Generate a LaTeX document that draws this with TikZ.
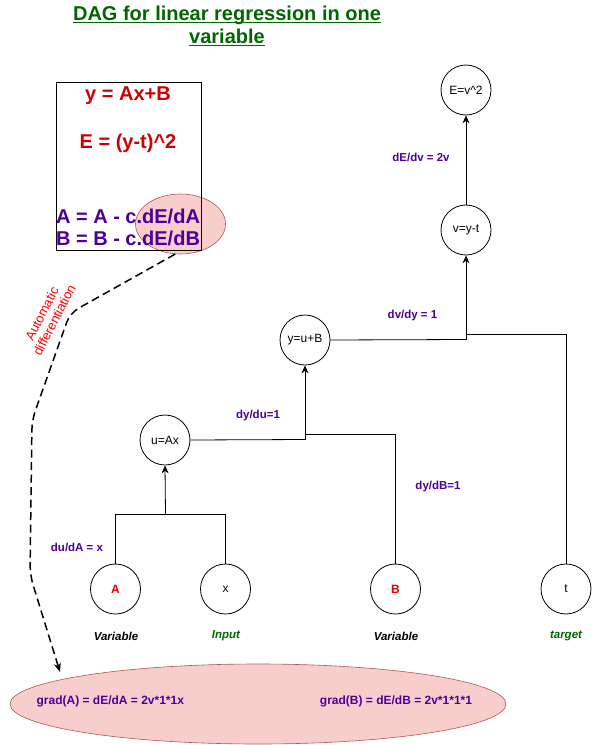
\documentclass[tikz,border=0pt]{standalone}
\usepackage{fontspec}
\setmainfont{Liberation Sans}
\usetikzlibrary{arrows.meta,shapes.geometric}
\definecolor{titlegreen}{RGB}{0,102,0}
\definecolor{eqred}{RGB}{204,0,0}
\definecolor{nodered}{RGB}{230,0,0}
\definecolor{purp}{RGB}{76,0,153}
\definecolor{pinkfill}{RGB}{248,206,204}
\definecolor{pinkdraw}{RGB}{184,84,80}
\newcommand\myul[1]{\setbox0\hbox{#1}\rlap{\rule[-2.6pt]{\wd0}{1.4pt}}\box0}
\begin{document}
\begin{tikzpicture}[x=1pt,y=1pt,
 op/.style={circle,draw,line width=0.8pt,minimum size=50pt,inner sep=0pt,font=\fontsize{12}{14}\selectfont},
 varop/.style={op,font=\fontsize{12}{14}\selectfont\bfseries,text=nodered},
 deriv/.style={font=\fontsize{11.5}{13}\selectfont\bfseries,text=purp,inner sep=0pt},
 role/.style={font=\fontsize{11.5}{13}\selectfont\bfseries\itshape,inner sep=0pt},
 edge/.style={line width=0.8pt},
 arr/.style={edge,-{Stealth[length=8pt,width=7pt]}},
 eq/.style={font=\fontsize{20}{24}\selectfont\bfseries,inner sep=0pt},
 grad/.style={font=\fontsize{12}{14}\selectfont\bfseries,text=purp,inner sep=0pt},
 blob/.style={ellipse,draw=pinkdraw,fill=pinkfill,line width=0.6pt,inner sep=0pt},
 dashline/.style={line width=1.5pt,dash pattern=on 8pt off 4.5pt,rounded corners=10pt,-{Stealth[length=9pt,width=7pt]}}
]
\useasboundingbox (0,0) rectangle (592,-745);
% title
\node[font=\fontsize{20}{23}\selectfont\bfseries,text=titlegreen,align=center,inner sep=0pt] (title) at (227,-26)
 {\myul{DAG for linear regression in one}\\\myul{variable}};
% highlight ellipse and box
\node[blob,minimum width=90pt,minimum height=60pt] (hl) at (180.5,-224) {};
\node[draw,line width=0.8pt,minimum width=145pt,minimum height=168pt,inner sep=0pt] (box) at (128.5,-166) {};
\node[eq,text=eqred] (eq1) at (128,-96) {y = Ax+B};
\node[eq,text=eqred] (eq2) at (128,-143) {E = (y-t)\textasciicircum2};
\node[eq,text=purp] (eq3) at (128,-216) {A = A - c.dE/dA};
\node[eq,text=purp] (eq4) at (128,-238) {B = B - c.dE/dB};
% bottom ellipse
\node[blob,minimum width=496pt,minimum height=80pt] (gradE) at (258,-704) {};
\node[grad] (gA) at (110.3,-701.7) {grad(A) = dE/dA = 2v*1*1x};
\node[grad] (gB) at (396,-701.7) {grad(B) = dE/dB = 2v*1*1*1};
% graph nodes
\node[op] (E) at (466,-90) {E=v\textasciicircum2};
\node[op] (v) at (466,-230) {v=y-t};
\node[op] (yub) at (305,-340) {y=u+B};
\node[op] (u) at (165,-440) {u=Ax};
\node[varop] (A) at (115.5,-589) {A};
\node[op] (x) at (225.5,-589) {x};
\node[varop] (B) at (395.5,-589) {B};
\node[op] (t) at (566,-589) {t};
% roles
\node[role] (rA) at (116,-636) {Variable};
\node[role,text=titlegreen] (rx) at (226,-636) {Input};
\node[role] (rB) at (396,-636) {Variable};
\node[role,text=titlegreen] (rt) at (566,-636) {target};
% derivative labels
\node[deriv] (l1) at (421,-157) {dE/dv = 2v};
\node[deriv] (l2) at (412.5,-316) {dv/dy = 1};
\node[deriv] (l3) at (258,-416) {dy/du=1};
\node[deriv] (l4) at (438,-487) {dy/dB=1};
\node[deriv] (l5) at (77,-547) {du/dA = x};
% connectors
\coordinate (j1) at (165.5,-514);
\draw[edge] (A.north) |- (j1);
\draw[edge] (x.north) |- (j1);
\draw[arr] (j1) -- (u.south);
\coordinate (j2) at (305,-439.5);
\coordinate (j2b) at (305,-434);
\draw[edge] (u.east) -- (j2);
\draw[edge] (B.north) |- (j2b);
\draw[arr] (j2) -- (yub.south);
\coordinate (j3) at (466,-339.5);
\coordinate (j3b) at (466,-334);
\draw[edge] (yub.east) -- (j3);
\draw[edge] (t.north) |- (j3b);
\draw[arr] (j3) -- (v.south);
\draw[arr] (v.north) -- (E.south);
% automatic differentiation
\coordinate (d1) at (70,-313);
\coordinate (d2) at (32,-420);
\coordinate (d3) at (30,-575);
\coordinate (d4) at (60,-672);
\draw[dashline] (hl.-100) -- (d1) -- (d2) -- (d3) -- (d4);
\node[font=\fontsize{13}{14}\selectfont,text=red,align=center,rotate=63,inner sep=0pt] (ad) at (48,-317) {Automatic\\differentiation};
\end{tikzpicture}
\end{document}
